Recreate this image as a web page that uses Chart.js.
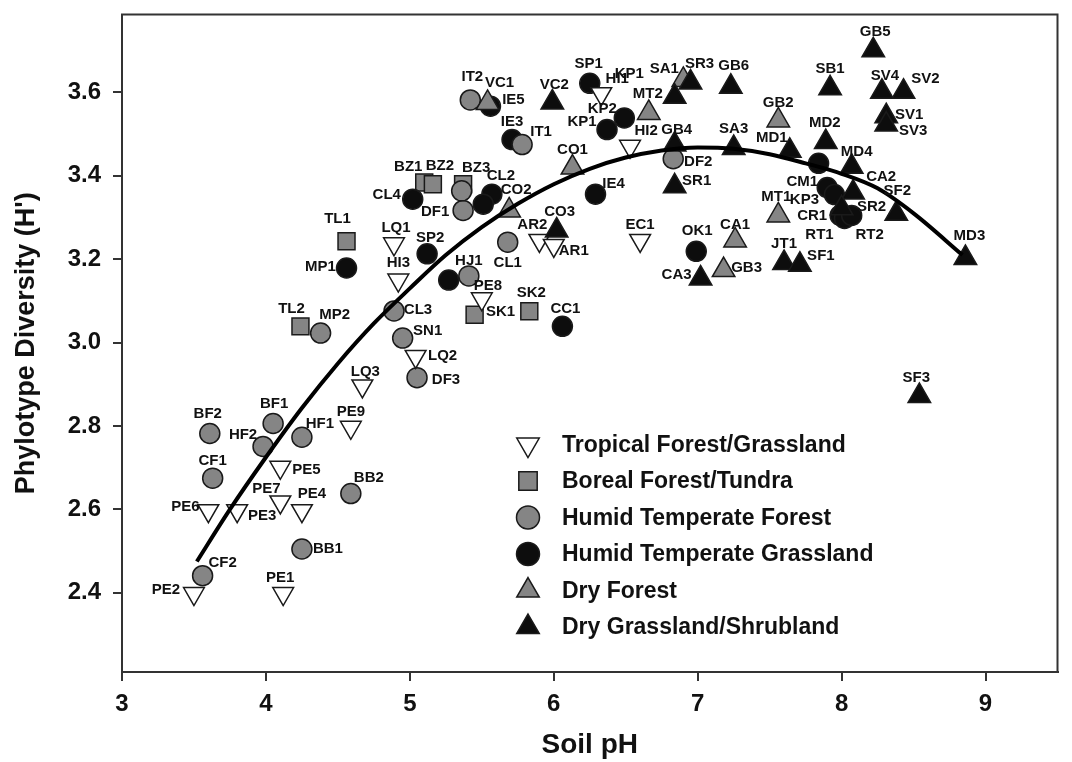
<!DOCTYPE html>
<html>
<head>
<meta charset="utf-8">
<title>Phylotype Diversity vs Soil pH</title>
<script src="https://cdn.jsdelivr.net/npm/chart.js@4.4.1/dist/chart.umd.min.js"></script>
<style>
    body { margin: 0; background: #fff; }
    #wrap { width: 1072px; height: 762px; }
</style>
</head>
<body>
<div id="wrap"><canvas id="diversityChart" width="1072" height="762"></canvas></div>
<script>
// ---------------------------------------------------------------
// Data: soil pH (x) and phylotype diversity H' (y)
const xTicks = [3, 4, 5, 6, 7, 8, 9];
const yTicks = [2.4, 2.6, 2.8, 3.0, 3.2, 3.4, 3.6];

const tropicalNames = ['PE2', 'PE1', 'PE6', 'PE3', 'PE7', 'PE4', 'PE5', 'PE9', 'LQ3', 'LQ2', 'HI3', 'LQ1', 'PE8', 'AR2', 'AR1', 'EC1', 'HI2', 'HI1'];
const tropicalPH = [3.50, 4.12, 3.60, 3.80, 4.10, 4.25, 4.10, 4.59, 4.67, 5.04, 4.92, 4.89, 5.50, 5.90, 6.00, 6.60, 6.53, 6.33];
const tropicalH = [2.398, 2.398, 2.597, 2.597, 2.618, 2.597, 2.701, 2.797, 2.896, 2.967, 3.150, 3.237, 3.105, 3.245, 3.233, 3.245, 3.471, 3.597];

const borealNames = ['TL1', 'TL2', 'BZ1', 'BZ2', 'BZ3', 'SK1', 'SK2'];
const borealPH = [4.56, 4.24, 5.10, 5.16, 5.37, 5.45, 5.83];
const borealH = [3.243, 3.039, 3.384, 3.380, 3.380, 3.067, 3.075];

const forestNames = ['CF2', 'CF1', 'BF2', 'BF1', 'HF2', 'HF1', 'BB2', 'BB1', 'MP2', 'CL3', 'SN1', 'DF3', 'HJ1', 'CL1', 'DF1', '', 'IT2', 'IT1', 'DF2'];
const forestPH = [3.56, 3.63, 3.61, 4.05, 3.98, 4.25, 4.59, 4.25, 4.38, 4.89, 4.95, 5.05, 5.41, 5.68, 5.37, 5.36, 5.42, 5.78, 6.83];
const forestH = [2.441, 2.675, 2.782, 2.806, 2.751, 2.773, 2.638, 2.505, 3.023, 3.076, 3.011, 2.916, 3.160, 3.241, 3.317, 3.364, 3.582, 3.475, 3.441];

const grassNames = ['MP1', 'CL4', 'SP2', '', 'CL2', '', 'IE5', 'IE3', 'IE4', 'CC1', 'SP1', 'KP1', 'KP2', 'OK1', '', 'CM1', 'KP3', 'CR1', 'RT1', 'RT2'];
const grassPH = [4.56, 5.02, 5.12, 5.27, 5.57, 5.51, 5.56, 5.71, 6.29, 6.06, 6.25, 6.37, 6.49, 6.99, 7.84, 7.90, 7.95, 7.99, 8.02, 8.07];
const grassH = [3.179, 3.344, 3.213, 3.150, 3.356, 3.332, 3.567, 3.487, 3.356, 3.039, 3.622, 3.511, 3.539, 3.219, 3.430, 3.372, 3.355, 3.305, 3.298, 3.305];

const dryForestNames = ['VC1', 'CO2', 'CO1', 'MT2', 'SA1', 'GB2', 'MT1', 'CA1', 'GB3'];
const dryForestPH = [5.54, 5.69, 6.13, 6.66, 6.90, 7.56, 7.56, 7.26, 7.18];
const dryForestH = [3.575, 3.317, 3.420, 3.551, 3.630, 3.533, 3.305, 3.245, 3.174];

const dryGrassNames = ['VC2', 'CO3', '', 'SR3', 'GB6', 'GB4', 'SR1', 'SA3', 'MD1', 'MD2', 'MD4', 'CA2', 'SR2', 'SF2', 'SB1', 'GB5', 'SV4', 'SV2', 'SV1', 'SV3', 'CA3', 'JT1', 'SF1', 'MD3', 'SF3'];
const dryGrassPH = [5.99, 6.02, 6.84, 6.95, 7.23, 6.84, 6.84, 7.25, 7.64, 7.89, 8.07, 8.08, 8.00, 8.38, 7.92, 8.22, 8.28, 8.43, 8.31, 8.31, 7.02, 7.60, 7.71, 8.86, 8.54];
const dryGrassH = [3.576, 3.269, 3.590, 3.624, 3.614, 3.475, 3.375, 3.467, 3.460, 3.481, 3.422, 3.360, 3.322, 3.309, 3.610, 3.701, 3.602, 3.602, 3.543, 3.523, 3.154, 3.191, 3.187, 3.203, 2.872];

// fitted curve
const curvePH = [3.52, 3.75, 4.0, 4.25, 4.5, 4.75, 5.0, 5.25, 5.5, 5.75, 6.0, 6.25, 6.5, 6.75, 7.0, 7.25, 7.5, 7.75, 8.0, 8.25, 8.5, 8.84];
const curveH = [2.475, 2.600, 2.725, 2.843, 2.950, 3.046, 3.130, 3.210, 3.277, 3.333, 3.380, 3.417, 3.444, 3.461, 3.468, 3.465, 3.452, 3.430, 3.405, 3.370, 3.310, 3.210];

// ---------------------------------------------------------------
// where each site label sits, in pixels from its marker (label centre)
const labelSpots = {
    PE2: [-28, -4], PE1: [-3, -16], PE6: [-23, -4], PE3: [25, 5], PE7: [-14, -13], PE4: [10, -17],
    PE5: [26, 3], PE9: [0, -15], LQ3: [3, -14], LQ2: [27, -1], HI3: [0, -17], LQ1: [2, -16],
    PE8: [6, -13], AR2: [-7, -16], AR1: [20, 5], EC1: [0, -16], HI2: [16, -15], HI1: [16, -15],
    TL1: [-9, -22], TL2: [-9, -18], BZ1: [-16, -16], BZ2: [7, -18], BZ3: [13, -16], SK1: [26, -3], SK2: [2, -18],
    CF2: [20, -13], CF1: [0, -17], BF2: [-2, -20], BF1: [1, -20], HF2: [-20, -12], HF1: [18, -13],
    BB2: [18, -16], BB1: [26, 0], MP2: [14, -18], CL3: [24, -1], SN1: [25, -7], DF3: [29, 2],
    HJ1: [0, -15], CL1: [0, 21], DF1: [-28, 1], IT2: [2, -23], IT1: [19, -13], DF2: [25, 3],
    MP1: [-26, -1], CL4: [-26, -4], SP2: [3, -16], CL2: [9, -18], IE5: [23, -6], IE3: [0, -18],
    IE4: [18, -10], CC1: [3, -18], SP1: [-1, -19], KP1: [-25, -8], KP2: [-22, -9], OK1: [1, -20],
    CM1: [-25, -6], KP3: [-30, 5], CR1: [-28, 0], RT1: [-25, 16], RT2: [18, 19],
    VC1: [12, -20], CO2: [7, -21], CO1: [0, -18], MT2: [-1, -19], SA1: [-19, -11], GB2: [0, -18],
    MT1: [-2, -19], CA1: [0, -16], GB3: [23, -2],
    VC2: [2, -18], CO3: [3, -19], SR3: [9, -19], GB6: [3, -21], GB4: [2, -15], SR1: [22, -5],
    SA3: [0, -19], MD1: [-18, -13], MD2: [-1, -19], MD4: [5, -15], CA2: [28, -16], SR2: [30, -2],
    SF2: [1, -23], SB1: [0, -19], GB5: [2, -18], SV4: [3, -16], SV2: [22, -13], SV1: [23, -1],
    SV3: [27, 6], CA3: [-24, -4], JT1: [0, -19], SF1: [21, -9], MD3: [4, -22], SF3: [-3, -18]
};
// second tag printed over HI1 in the original
const extraLabels = [{ on: 'HI1', text: 'KP1', dx: 28, dy: -20 }];

const FONT = "'Liberation Sans', Arial, Helvetica, sans-serif";
const GREY = '#858585';
const BLACK = '#0d0d0d';
const EDGE = '#1a1a1a';

function toPoints(ph, h) {
    return ph.map(function (v, i) { return { x: v, y: h[i] }; });
}

function siteSet(label, names, ph, h, style, rotation, fill, radius) {
    return {
        label: label,
        names: names,
        data: toPoints(ph, h),
        showLine: false,
        pointStyle: style,
        rotation: rotation,
        pointRotation: rotation,
        pointRadius: radius,
        pointHoverRadius: radius,
        pointBackgroundColor: fill,
        pointBorderColor: EDGE,
        pointBorderWidth: 1.5,
        backgroundColor: fill,
        borderColor: EDGE
    };
}

// stacking: first dataset ends up on top
const curveSet = {
    type: 'line',
    label: 'fit',
    data: toPoints(curvePH, curveH),
    borderColor: '#000',
    borderWidth: 4,
    pointRadius: 0,
    fill: false,
    cubicInterpolationMode: 'monotone'
};
const dryGrassSet = siteSet('Dry Grassland/Shrubland', dryGrassNames, dryGrassPH, dryGrassH, 'triangle', 0, BLACK, 13);
const dryForestSet = siteSet('Dry Forest', dryForestNames, dryForestPH, dryForestH, 'triangle', 0, GREY, 13);
const tropicalSet = siteSet('Tropical Forest/Grassland', tropicalNames, tropicalPH, tropicalH, 'triangle', 180, '#ffffff', 12);
const forestSet = siteSet('Humid Temperate Forest', forestNames, forestPH, forestH, 'circle', 0, GREY, 10);
const grassSet = siteSet('Humid Temperate Grassland', grassNames, grassPH, grassH, 'circle', 0, BLACK, 10);
const borealSet = siteSet('Boreal Forest/Tundra', borealNames, borealPH, borealH, 'rect', 0, GREY, 12);

const legendOrder = [tropicalSet, borealSet, forestSet, grassSet, dryForestSet, dryGrassSet];

// ---------------------------------------------------------------
// box round the plot, site tags and the legend inside the plot
const framePlugin = {
    id: 'frame',
    afterDraw: function (chart) {
        const a = chart.chartArea;
        const ctx = chart.ctx;
        ctx.save();
        ctx.strokeStyle = '#333';
        ctx.lineWidth = 2;
        ctx.strokeRect(a.left, a.top, a.right - a.left, a.bottom - a.top);
        ctx.restore();
    }
};

const tagPlugin = {
    id: 'tags',
    afterDatasetsDraw: function (chart) {
        const ctx = chart.ctx;
        const where = {};
        ctx.save();
        ctx.font = 'bold 15px ' + FONT;
        ctx.fillStyle = '#111';
        ctx.textAlign = 'center';
        ctx.textBaseline = 'middle';
        chart.data.datasets.forEach(function (ds, d) {
            if (!ds.names) return;
            const meta = chart.getDatasetMeta(d);
            ds.names.forEach(function (name, i) {
                if (!name) return;
                const el = meta.data[i];
                const off = labelSpots[name] || [0, -19];
                where[name] = el;
                ctx.fillText(name, el.x + off[0], el.y + off[1]);
            });
        });
        extraLabels.forEach(function (t) {
            const el = where[t.on];
            if (el) ctx.fillText(t.text, el.x + t.dx, el.y + t.dy);
        });
        ctx.restore();
    }
};

const keyPlugin = {
    id: 'key',
    afterDraw: function (chart) {
        const a = chart.chartArea;
        const ctx = chart.ctx;
        const markX = a.left + 406;
        const textX = a.left + 440;
        let y = a.top + 430;
        ctx.save();
        ctx.font = 'bold 23px ' + FONT;
        ctx.textAlign = 'left';
        ctx.textBaseline = 'middle';
        legendOrder.forEach(function (ds) {
            ctx.fillStyle = ds.pointBackgroundColor;
            ctx.strokeStyle = EDGE;
            ctx.lineWidth = 1.5;
            Chart.helpers.drawPoint(ctx, {
                pointStyle: ds.pointStyle,
                rotation: ds.pointRotation,
                radius: ds.pointStyle === 'circle' ? 11.5 : 13,
                borderWidth: 1.5
            }, markX, y);
            ctx.fillStyle = '#111';
            ctx.fillText(ds.label, textX, y + 1);
            y += 36.5;
        });
        ctx.restore();
    }
};

// keep the plot box where the figure has it: no extra room for edge labels
function noEdgePadding(scale) {
    scale.paddingLeft = 0;
    scale.paddingRight = 0;
    scale.paddingTop = 0;
    scale.paddingBottom = 0;
}

new Chart("diversityChart", {
    type: 'scatter',
    data: {
        datasets: [curveSet, dryGrassSet, dryForestSet, tropicalSet, forestSet, grassSet, borealSet]
    },
    options: {
        responsive: false,
        animation: false,
        layout: { padding: { top: 10, right: 8, left: 0, bottom: 0 } },
        plugins: {
            legend: { display: false },
            tooltip: { enabled: false }
        },
        scales: {
            x: {
                type: 'linear',
                min: 3,
                max: 9.5,
                afterFit: function (scale) { scale.height = 90; noEdgePadding(scale); },
                afterBuildTicks: function (axis) {
                    axis.ticks = xTicks.map(function (v) { return { value: v }; });
                },
                ticks: {
                    color: '#111',
                    padding: 9,
                    font: { family: FONT, size: 24, weight: 'bold' }
                },
                grid: { drawOnChartArea: false, drawTicks: true, tickLength: 9, color: '#333', lineWidth: 2 },
                border: { color: '#333', width: 2 },
                title: {
                    display: true,
                    text: 'Soil pH',
                    color: '#111',
                    padding: { top: 0, bottom: 0 },
                    font: { family: FONT, size: 28, weight: 'bold' }
                }
            },
            y: {
                type: 'linear',
                min: 2.21,
                max: 3.787,
                afterFit: function (scale) { scale.width = 122; noEdgePadding(scale); },
                afterBuildTicks: function (axis) {
                    axis.ticks = yTicks.map(function (v) { return { value: v }; });
                },
                ticks: {
                    color: '#111',
                    padding: 12,
                    font: { family: FONT, size: 24, weight: 'bold' },
                    callback: function (v) { return Number(v).toFixed(1); }
                },
                grid: { drawOnChartArea: false, drawTicks: true, tickLength: 9, color: '#333', lineWidth: 2 },
                border: { color: '#333', width: 2 },
                title: {
                    display: true,
                    text: "Phylotype Diversity (H')",
                    color: '#111',
                    padding: { top: 10, bottom: 0 },
                    font: { family: FONT, size: 27, weight: 'bold' }
                }
            }
        }
    },
    plugins: [framePlugin, tagPlugin, keyPlugin]
});
</script>
</body>
</html>
